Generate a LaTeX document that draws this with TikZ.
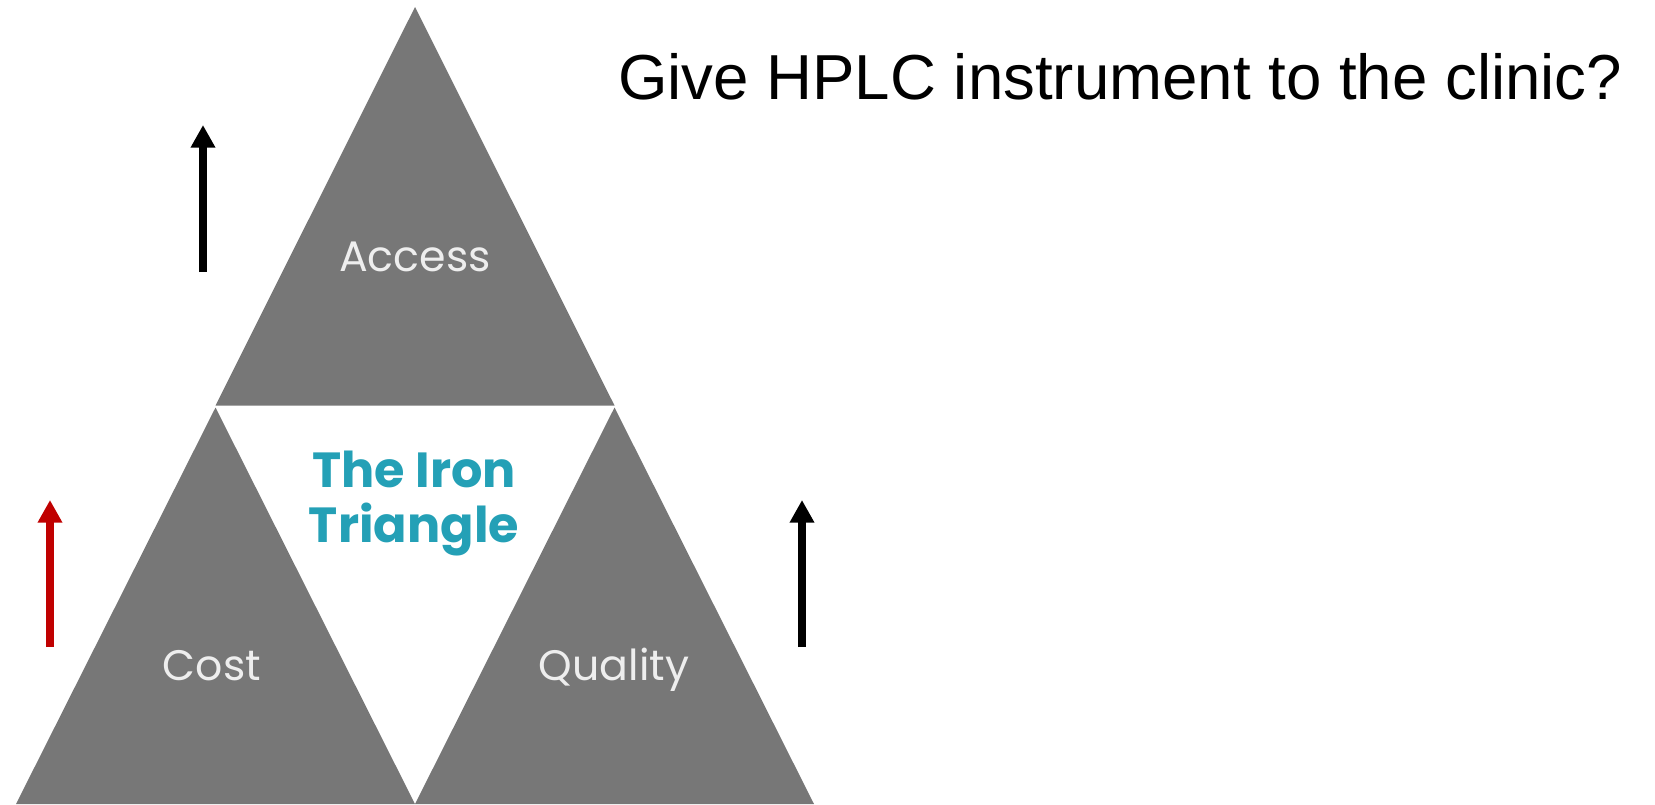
\documentclass[tikz,border=0pt]{standalone}
\usepackage{fontspec}
\usetikzlibrary{arrows.meta}
\setmainfont{Liberation Sans}
\newfontfamily\gothic{Poppins}
\definecolor{wedge}{RGB}{119,119,119}
\definecolor{labelgray}{RGB}{238,238,238}
\definecolor{ironteal}{RGB}{36,160,182}
\definecolor{upred}{RGB}{192,0,0}
\begin{document}
\begin{tikzpicture}[x=0.75pt, y=-0.75pt,
  wedgefill/.style={fill=wedge},
  label/.style={text=labelgray, font=\gothic\fontsize{32}{38}\selectfont, inner sep=0pt, anchor=base},
  uparrow/.style={line width=6pt, -{Triangle[width=17.5pt, length=17pt]}}]
  \useasboundingbox (0,0) rectangle (1655,804);
  % corners of the three wedges
  \coordinate (apex) at (415,7);
  \coordinate (ml) at (215.5,405.5);
  \coordinate (mr) at (614.5,405.5);
  \coordinate (mlb) at (215.5,407.5);
  \coordinate (mrb) at (614.5,407.5);
  \coordinate (bl) at (16,804);
  \coordinate (bm) at (415,804);
  \coordinate (br) at (814,804);
  \fill[wedgefill] (apex) -- (ml) -- (mr) -- cycle;
  \fill[wedgefill] (mlb) -- (bl) -- (bm) -- cycle;
  \fill[wedgefill] (mrb) -- (bm) -- (br) -- cycle;
  % labels
  \node[label] (access) at (415,271) {Access};
  \node[label] (cost) at (212,680) {Cost};
  \node[label] (quality) at (614,680) {Quality};
  \node[text=ironteal, font=\gothic\bfseries\fontsize{37}{41.25}\selectfont,
        align=center, inner sep=0pt, anchor=base] (iron) at (414,542)
        {The Iron\\Triangle};
  \node[font=\fontsize{47.7}{56}\selectfont, inner sep=0pt, anchor=base west] (question)
        at (618,99.5) {Give HPLC instrument to the clinic?};
  % trend arrows
  \coordinate (a1s) at (203,272); \coordinate (a1e) at (203,125);
  \coordinate (a2s) at (50,647);  \coordinate (a2e) at (50,500);
  \coordinate (a3s) at (802,647); \coordinate (a3e) at (802,500);
  \draw[uparrow, black] (a1s) -- (a1e);
  \draw[uparrow, upred] (a2s) -- (a2e);
  \draw[uparrow, black] (a3s) -- (a3e);
\end{tikzpicture}
\end{document}
